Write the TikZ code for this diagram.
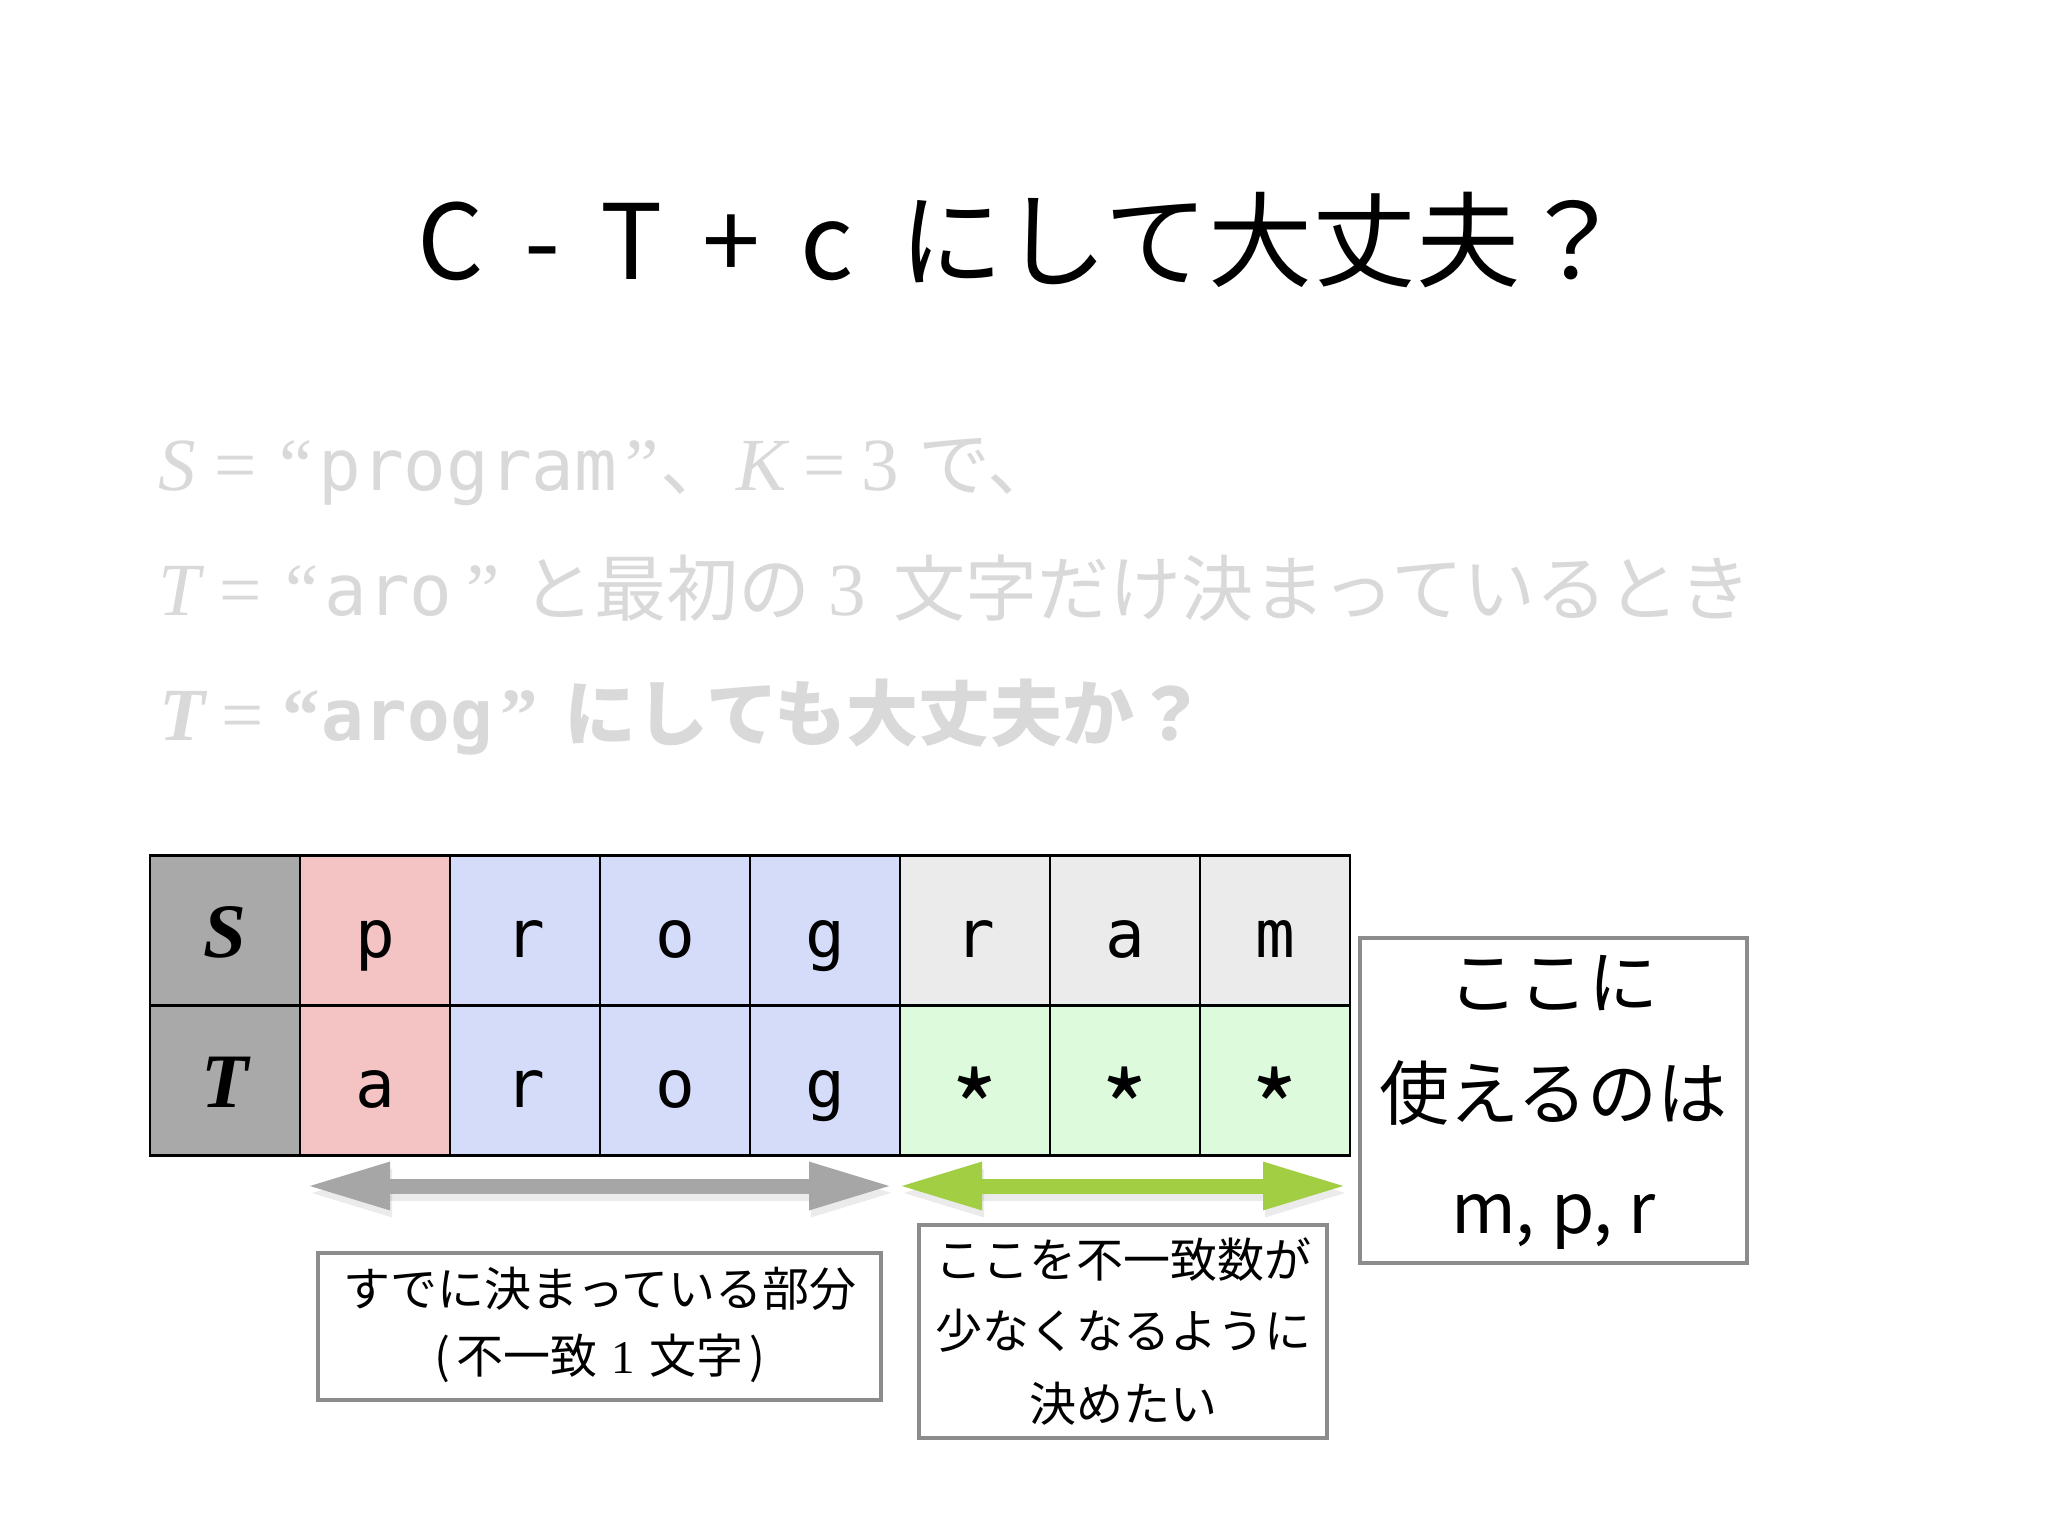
\documentclass[tikz,border=0pt]{standalone}
\usepackage{fontspec}
\setmainfont{Noto Sans CJK JP}
\newfontfamily\serif{Liberation Serif}
\newfontfamily\mono{DejaVu Sans Mono}
\usetikzlibrary{arrows.meta}
\definecolor{faint}{HTML}{D9D9D9}
\definecolor{hdr}{HTML}{A9A9A9}
\definecolor{pinkc}{HTML}{F4C3C4}
\definecolor{bluec}{HTML}{D5DCFA}
\definecolor{greyc}{HTML}{EBEBEB}
\definecolor{greenc}{HTML}{DDFADC}
\definecolor{boxline}{HTML}{8C8C8C}
\definecolor{arrgray}{HTML}{A6A6A6}
\definecolor{arrgreen}{HTML}{A2CE44}
\newcommand{\lat}{\serif\fontsize{75}{75}\selectfont}
\newcommand{\mlat}{\mono\fontsize{71}{71}\selectfont}
\tikzset{
  cell/.style={draw=black, line width=2.5pt, minimum width=150pt, minimum height=150pt,
    inner sep=0pt, text height=90pt, text depth=36pt,
    font=\mono\fontsize{66}{66}\selectfont},
  hcell/.style={cell, fill=hdr, font=\serif\bfseries\itshape\fontsize{77}{77}\selectfont},
  startext/.style={inner sep=0pt, anchor=base, font=\fontsize{100}{100}\selectfont},
  graytext/.style={anchor=base west, inner sep=0pt, text=faint, font=\fontsize{72}{72}\selectfont},
  infobox/.style={draw=boxline, line width=3.5pt, fill=white, inner sep=0pt},
  boxtext/.style={inner sep=0pt, font=\fontsize{47}{47}\selectfont},
  bigtext/.style={inner sep=0pt, font=\fontsize{70}{70}\selectfont},
  dblarrow/.style={line width=15pt, {Triangle[length=84pt,width=44pt]}-{Triangle[length=84pt,width=44pt]}},
}
\begin{document}
\begin{tikzpicture}[x=1pt,y=-1pt]
\path[use as bounding box, fill=white] (0,0) rectangle (2048,1536);

% title
\node[inner sep=0pt, font=\fontsize{104}{104}\selectfont] (title) at (1021,240)
  {C\hspace{40pt}-\hspace{40pt}T\hspace{40pt}+\hspace{40pt}c\hspace{46pt}にして大丈夫？};

% faint text lines
\node[graytext] (l1) at (158,490)
  {{\lat\itshape S}\hspace{19pt}{\lat =}\hspace{23pt}{\lat “}\hspace{5pt}{\mlat program}\hspace{8pt}{\lat ”}\hspace{2pt}、\hspace{4pt}{\lat\itshape K}\hspace{17pt}{\lat =}\hspace{15pt}{\lat 3}\hspace{20pt}で、};
\node[graytext] (l2) at (158,615)
  {{\lat\itshape T}\hspace{20pt}{\lat =}\hspace{23pt}{\lat “}\hspace{6pt}{\mlat aro}\hspace{14pt}{\lat ”}\hspace{22pt}と最初の\hspace{18pt}{\lat 3}\hspace{28pt}文字だけ決まっているとき};
\node[graytext, font=\fontsize{72}{72}\selectfont\bfseries] (l3) at (159,740)
  {{\lat\bfseries\itshape T}\hspace{16pt}{\lat\mdseries =}\hspace{19pt}{\lat\bfseries “}\hspace{2pt}{\mlat\bfseries arog}\hspace{8pt}{\lat\bfseries ”}\hspace{26pt}にしても大丈夫か？};

% table row S
\node[hcell] (s0) at (225,930.5) {S};
\node[cell, fill=pinkc] (s1) at (375,930.5) {p};
\node[cell, fill=bluec] (s2) at (525,930.5) {r};
\node[cell, fill=bluec] (s3) at (675,930.5) {o};
\node[cell, fill=bluec] (s4) at (825,930.5) {g};
\node[cell, fill=greyc] (s5) at (975,930.5) {r};
\node[cell, fill=greyc] (s6) at (1125,930.5) {a};
\node[cell, fill=greyc] (s7) at (1275,930.5) {m};
% table row T
\node[hcell] (t0) at (225,1080.5) {T};
\node[cell, fill=pinkc] (t1) at (375,1080.5) {a};
\node[cell, fill=bluec] (t2) at (525,1080.5) {r};
\node[cell, fill=bluec] (t3) at (675,1080.5) {o};
\node[cell, fill=bluec] (t4) at (825,1080.5) {g};
\node[cell, fill=greenc] (t5) at (975,1080.5) {};
\node[cell, fill=greenc] (t6) at (1125,1080.5) {};
\node[cell, fill=greenc] (t7) at (1275,1080.5) {};
\node[startext] (st5) at (975,1146) {*};
\node[startext] (st6) at (1125,1146) {*};
\node[startext] (st7) at (1275,1146) {*};

% arrows
\coordinate (ga) at (306,1186);
\coordinate (gb) at (893,1186);
\coordinate (na) at (898,1186);
\coordinate (nb) at (1347,1186);
\coordinate (gas) at (308,1193);
\coordinate (gbs) at (895,1193);
\coordinate (nas) at (900,1193);
\coordinate (nbs) at (1349,1193);
\draw[dblarrow, draw=black, fill=black, opacity=0.08] (gas) -- (gbs);
\draw[dblarrow, draw=black, fill=black, opacity=0.08] (nas) -- (nbs);
\draw[dblarrow, draw=arrgray, fill=arrgray] (ga) -- (gb);
\draw[dblarrow, draw=arrgreen, fill=arrgreen] (na) -- (nb);

% box 1
\node[infobox, minimum width=563pt, minimum height=147pt] (b1) at (599.5,1326.5) {};
\node[boxtext] (b1a) at (600,1289) {すでに決まっている部分};
\node[boxtext] (b1b) at (600,1358) {(\hspace{6pt}不一致\hspace{4pt} {\serif 1} \hspace{4pt}文字\hspace{6pt})};

% box 2
\node[infobox, minimum width=408pt, minimum height=213pt] (b2) at (1123,1331.5) {};
\node[boxtext] (b2a) at (1123,1260) {ここを不一致数が};
\node[boxtext] (b2b) at (1123,1331) {少なくなるように};
\node[boxtext] (b2c) at (1123,1404) {決めたい};

% box 3
\node[infobox, minimum width=387pt, minimum height=325pt] (b3) at (1553.5,1100.5) {};
\node[bigtext] (b3a) at (1553.5,983) {ここに};
\node[bigtext] (b3b) at (1553.5,1093) {使えるのは};
\node[bigtext, anchor=base] (b3c) at (1553.5,1233) {m, p, r};
\end{tikzpicture}
\end{document}
